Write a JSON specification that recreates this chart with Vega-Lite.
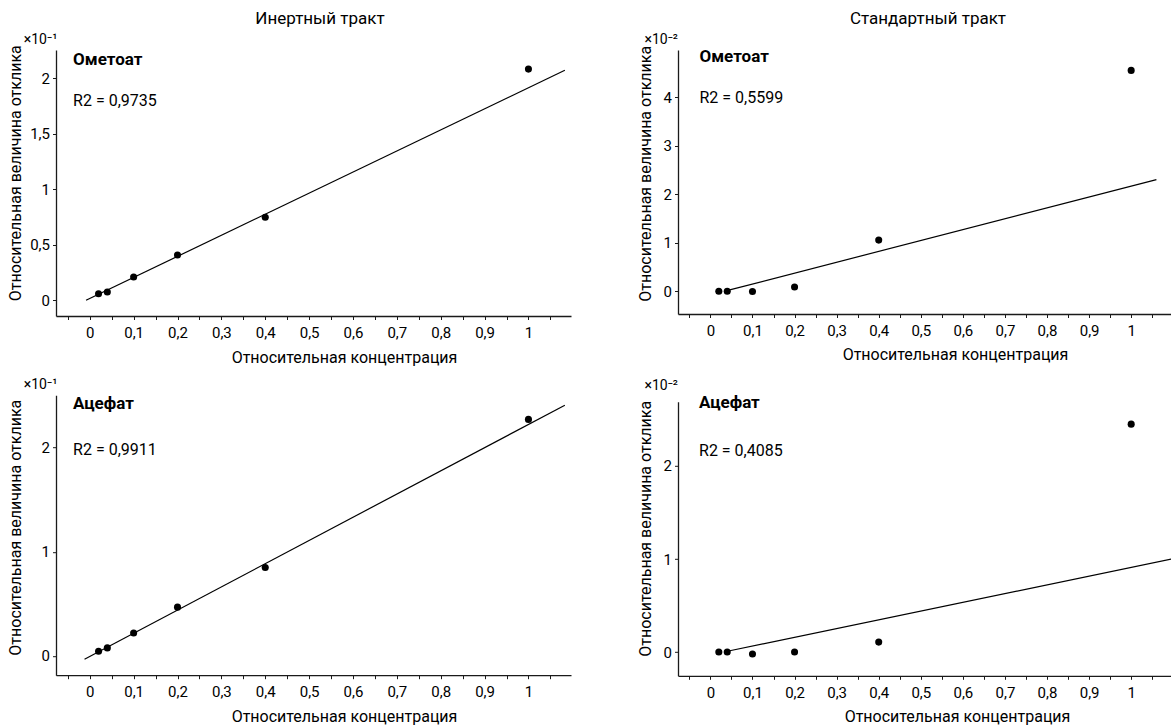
{
  "$schema": "https://vega.github.io/schema/vega-lite/v6.json",
  "background": "white",
  "padding": {"left": 7, "top": 9, "right": 0, "bottom": 0},
  "autosize": {"type": "pad"},
  "spacing": 65,
  "datasets": {
    "pts": [
      {"path": "inert", "compound": "Ометоат", "conc": 0.02, "resp": 0.059},
      {"path": "inert", "compound": "Ометоат", "conc": 0.04, "resp": 0.075},
      {"path": "inert", "compound": "Ометоат", "conc": 0.1, "resp": 0.21},
      {"path": "inert", "compound": "Ометоат", "conc": 0.2, "resp": 0.408},
      {"path": "inert", "compound": "Ометоат", "conc": 0.4, "resp": 0.748},
      {"path": "inert", "compound": "Ометоат", "conc": 1, "resp": 2.08},
      {"path": "standard", "compound": "Ометоат", "conc": 0.02, "resp": 0.0},
      {"path": "standard", "compound": "Ометоат", "conc": 0.04, "resp": 0.0},
      {"path": "standard", "compound": "Ометоат", "conc": 0.1, "resp": -0.005},
      {"path": "standard", "compound": "Ометоат", "conc": 0.2, "resp": 0.09},
      {"path": "standard", "compound": "Ометоат", "conc": 0.4, "resp": 1.055},
      {"path": "standard", "compound": "Ометоат", "conc": 1, "resp": 4.55},
      {"path": "inert", "compound": "Ацефат", "conc": 0.02, "resp": 0.045},
      {"path": "inert", "compound": "Ацефат", "conc": 0.04, "resp": 0.077},
      {"path": "inert", "compound": "Ацефат", "conc": 0.1, "resp": 0.22},
      {"path": "inert", "compound": "Ацефат", "conc": 0.2, "resp": 0.468},
      {"path": "inert", "compound": "Ацефат", "conc": 0.4, "resp": 0.848},
      {"path": "inert", "compound": "Ацефат", "conc": 1, "resp": 2.27},
      {"path": "standard", "compound": "Ацефат", "conc": 0.02, "resp": 0.0},
      {"path": "standard", "compound": "Ацефат", "conc": 0.04, "resp": 0.0},
      {"path": "standard", "compound": "Ацефат", "conc": 0.1, "resp": -0.021},
      {"path": "standard", "compound": "Ацефат", "conc": 0.2, "resp": 0.0},
      {"path": "standard", "compound": "Ацефат", "conc": 0.4, "resp": 0.107},
      {"path": "standard", "compound": "Ацефат", "conc": 1, "resp": 2.45}
    ],
    "fits": [
      {"path": "inert", "compound": "Ометоат", "conc": -0.0085, "resp": 0.0},
      {"path": "inert", "compound": "Ометоат", "conc": 1.083, "resp": 2.07},
      {"path": "standard", "compound": "Ометоат", "conc": 0.046, "resp": 0.03},
      {"path": "standard", "compound": "Ометоат", "conc": 1.06, "resp": 2.3},
      {"path": "inert", "compound": "Ацефат", "conc": -0.012, "resp": -0.032},
      {"path": "inert", "compound": "Ацефат", "conc": 1.083, "resp": 2.406},
      {"path": "standard", "compound": "Ацефат", "conc": 0.046, "resp": 0.014},
      {"path": "standard", "compound": "Ацефат", "conc": 1.095, "resp": 1.0}
    ],
    "labels": [
      {"path": "inert", "compound": "Ометоат", "r2": "R2 = 0,9735"},
      {"path": "standard", "compound": "Ометоат", "r2": "R2 = 0,5599"},
      {"path": "inert", "compound": "Ацефат", "r2": "R2 = 0,9911"},
      {"path": "standard", "compound": "Ацефат", "r2": "R2 = 0,4085"}
    ]
  },
  "hconcat": [
    {
      "title": {"text": "Инертный тракт", "fontSize": 17, "offset": 5.3, "anchor": "middle", "frame": "group", "dx": 264},
      "spacing": 12.2,
      "vconcat": [
        {
          "width": 515, "height": 266,
          "title": {"text": "×10⁻¹", "anchor": "start", "frame": "group", "align": "right", "dx": 1.3, "offset": -2.7, "fontSize": 14},
          "resolve": {"axis": {"x": "independent"}},
          "layer": [
            {
              "data": {"name": "fits"},
              "transform": [{"filter": "datum.path == 'inert' && datum.compound == 'Ометоат'"}],
              "mark": {"type": "line", "color": "black", "strokeWidth": 1.2},
              "encoding": {
                "x": {"field": "conc", "type": "quantitative", "scale": {"domain": [-0.077, 1.097], "nice": false, "zero": false},
                  "axis": {"orient": "bottom", "values": [0, 0.1, 0.2, 0.3, 0.4, 0.5, 0.6, 0.7, 0.8, 0.9, 1],
                    "labelExpr": "replace(format(datum.value,'~g'),'.',',')",
                    "labelOverlap": false, "labelFlush": false, "labelPadding": 6,
                    "title": "Относительная концентрация", "titleX": 288, "titleY": 41.5, "titleBaseline": "middle", "titleAlign": "center"}},
                "y": {"field": "resp", "type": "quantitative", "scale": {"domain": [-0.141, 2.252], "nice": false, "zero": false},
                  "axis": {"values": [0, 0.5, 1, 1.5, 2], "labelExpr": "replace(format(datum.value,'~g'),'.',',')", "labelOverlap": false,
                    "title": "Относительная величина отклика", "titleX": -40.7, "titleY": 122.7, "titleAngle": 270, "titleBaseline": "middle", "titleAlign": "center"}}
              }
            },
            {
              "data": {"name": "pts"},
              "transform": [{"filter": "datum.path == 'inert' && datum.compound == 'Ометоат'"}],
              "mark": {"type": "circle", "color": "black", "size": 50, "opacity": 1},
              "encoding": {
                "x": {"field": "conc", "type": "quantitative",
                  "axis": {"orient": "bottom", "values": [-0.05, 0.05, 0.15, 0.25, 0.35, 0.45, 0.55, 0.65, 0.75, 0.85, 0.95, 1.05], "labels": false, "domain": false, "title": null}},
                "y": {"field": "resp", "type": "quantitative"}
              }
            },
            {
              "data": {"name": "labels"},
              "transform": [{"filter": "datum.path == 'inert' && datum.compound == 'Ометоат'"}],
              "mark": {"type": "text", "align": "left", "baseline": "middle", "fontSize": 17, "fontWeight": "bold", "color": "black"},
              "encoding": {"x": {"datum": -0.038, "axis": null}, "y": {"datum": 2.165}, "text": {"field": "compound"}}
            },
            {
              "data": {"name": "labels"},
              "transform": [{"filter": "datum.path == 'inert' && datum.compound == 'Ометоат'"}],
              "mark": {"type": "text", "align": "left", "baseline": "middle", "fontSize": 16, "color": "black"},
              "encoding": {"x": {"datum": -0.038, "axis": null}, "y": {"datum": 1.795}, "text": {"field": "r2"}}
            }
          ]
        },
        {
          "width": 515, "height": 280,
          "title": {"text": "×10⁻¹", "anchor": "start", "frame": "group", "align": "right", "dx": 1.3, "offset": 2.3, "fontSize": 14},
          "resolve": {"axis": {"x": "independent"}},
          "layer": [
            {
              "data": {"name": "fits"},
              "transform": [{"filter": "datum.path == 'inert' && datum.compound == 'Ацефат'"}],
              "mark": {"type": "line", "color": "black", "strokeWidth": 1.2},
              "encoding": {
                "x": {"field": "conc", "type": "quantitative", "scale": {"domain": [-0.077, 1.097], "nice": false, "zero": false},
                  "axis": {"orient": "bottom", "values": [0, 0.1, 0.2, 0.3, 0.4, 0.5, 0.6, 0.7, 0.8, 0.9, 1],
                    "labelExpr": "replace(format(datum.value,'~g'),'.',',')",
                    "labelOverlap": false, "labelFlush": false, "labelPadding": 6,
                    "title": "Относительная концентрация", "titleX": 288, "titleY": 41.5, "titleBaseline": "middle", "titleAlign": "center"}},
                "y": {"field": "resp", "type": "quantitative", "scale": {"domain": [-0.185, 2.502], "nice": false, "zero": false},
                  "axis": {"values": [0, 1, 2], "labelExpr": "replace(format(datum.value,'~g'),'.',',')", "labelOverlap": false,
                    "title": "Относительная величина отклика", "titleX": -40.4, "titleY": 132, "titleAngle": 270, "titleBaseline": "middle", "titleAlign": "center"}}
              }
            },
            {
              "data": {"name": "pts"},
              "transform": [{"filter": "datum.path == 'inert' && datum.compound == 'Ацефат'"}],
              "mark": {"type": "circle", "color": "black", "size": 50, "opacity": 1},
              "encoding": {
                "x": {"field": "conc", "type": "quantitative",
                  "axis": {"orient": "bottom", "values": [-0.05, 0.05, 0.15, 0.25, 0.35, 0.45, 0.55, 0.65, 0.75, 0.85, 0.95, 1.05], "labels": false, "domain": false, "title": null}},
                "y": {"field": "resp", "type": "quantitative"}
              }
            },
            {
              "data": {"name": "labels"},
              "transform": [{"filter": "datum.path == 'inert' && datum.compound == 'Ацефат'"}],
              "mark": {"type": "text", "align": "left", "baseline": "middle", "fontSize": 17, "fontWeight": "bold", "color": "black"},
              "encoding": {"x": {"datum": -0.038, "axis": null}, "y": {"datum": 2.42}, "text": {"field": "compound"}}
            },
            {
              "data": {"name": "labels"},
              "transform": [{"filter": "datum.path == 'inert' && datum.compound == 'Ацефат'"}],
              "mark": {"type": "text", "align": "left", "baseline": "middle", "fontSize": 16, "color": "black"},
              "encoding": {"x": {"datum": -0.038, "axis": null}, "y": {"datum": 1.974}, "text": {"field": "r2"}}
            }
          ]
        }
      ]
    },
    {
      "title": {"text": "Стандартный тракт", "fontSize": 17, "offset": 5.3, "anchor": "middle", "frame": "group", "dx": 250},
      "spacing": 14.8,
      "vconcat": [
        {
          "width": 494, "height": 264,
          "title": {"text": "×10⁻²", "anchor": "start", "frame": "group", "align": "right", "dx": 0, "offset": -1.9, "fontSize": 14},
          "resolve": {"axis": {"x": "independent"}},
          "layer": [
            {
              "data": {"name": "fits"},
              "transform": [{"filter": "datum.path == 'standard' && datum.compound == 'Ометоат'"}],
              "mark": {"type": "line", "color": "black", "strokeWidth": 1.2},
              "encoding": {
                "x": {"field": "conc", "type": "quantitative", "scale": {"domain": [-0.077, 1.097], "nice": false, "zero": false},
                  "axis": {"orient": "bottom", "values": [0, 0.1, 0.2, 0.3, 0.4, 0.5, 0.6, 0.7, 0.8, 0.9, 1],
                    "labelExpr": "replace(format(datum.value,'~g'),'.',',')",
                    "labelOverlap": false, "labelFlush": false, "labelPadding": 6,
                    "title": "Относительная концентрация", "titleX": 277, "titleY": 40.7, "titleBaseline": "middle", "titleAlign": "center"}},
                "y": {"field": "resp", "type": "quantitative", "scale": {"domain": [-0.467, 4.97], "nice": false, "zero": false},
                  "axis": {"values": [0, 1, 2, 3, 4], "labelExpr": "replace(format(datum.value,'~g'),'.',',')", "labelOverlap": false,
                    "title": "Относительная величина отклика", "titleX": -33, "titleY": 123.3, "titleAngle": 270, "titleBaseline": "middle", "titleAlign": "center"}}
              }
            },
            {
              "data": {"name": "pts"},
              "transform": [{"filter": "datum.path == 'standard' && datum.compound == 'Ометоат'"}],
              "mark": {"type": "circle", "color": "black", "size": 50, "opacity": 1},
              "encoding": {
                "x": {"field": "conc", "type": "quantitative",
                  "axis": {"orient": "bottom", "values": [-0.05, 0.05, 0.15, 0.25, 0.35, 0.45, 0.55, 0.65, 0.75, 0.85, 0.95, 1.05], "labels": false, "domain": false, "title": null}},
                "y": {"field": "resp", "type": "quantitative"}
              }
            },
            {
              "data": {"name": "labels"},
              "transform": [{"filter": "datum.path == 'standard' && datum.compound == 'Ометоат'"}],
              "mark": {"type": "text", "align": "left", "baseline": "middle", "fontSize": 17, "fontWeight": "bold", "color": "black"},
              "encoding": {"x": {"datum": -0.026, "axis": null}, "y": {"datum": 4.82}, "text": {"field": "compound"}}
            },
            {
              "data": {"name": "labels"},
              "transform": [{"filter": "datum.path == 'standard' && datum.compound == 'Ометоат'"}],
              "mark": {"type": "text", "align": "left", "baseline": "middle", "fontSize": 16, "color": "black"},
              "encoding": {"x": {"datum": -0.026, "axis": null}, "y": {"datum": 3.98}, "text": {"field": "r2"}}
            }
          ]
        },
        {
          "width": 494, "height": 274,
          "title": {"text": "×10⁻²", "anchor": "start", "frame": "group", "align": "right", "dx": 0, "offset": 1.5, "fontSize": 14},
          "resolve": {"axis": {"x": "independent"}},
          "layer": [
            {
              "data": {"name": "fits"},
              "transform": [{"filter": "datum.path == 'standard' && datum.compound == 'Ацефат'"}],
              "mark": {"type": "line", "color": "black", "strokeWidth": 1.2},
              "encoding": {
                "x": {"field": "conc", "type": "quantitative", "scale": {"domain": [-0.077, 1.097], "nice": false, "zero": false},
                  "axis": {"orient": "bottom", "values": [0, 0.1, 0.2, 0.3, 0.4, 0.5, 0.6, 0.7, 0.8, 0.9, 1],
                    "labelExpr": "replace(format(datum.value,'~g'),'.',',')",
                    "labelOverlap": false, "labelFlush": false, "labelPadding": 6,
                    "title": "Относительная концентрация", "titleX": 279, "titleY": 40.7, "titleBaseline": "middle", "titleAlign": "center"}},
                "y": {"field": "resp", "type": "quantitative", "scale": {"domain": [-0.255, 2.69], "nice": false, "zero": false},
                  "axis": {"values": [0, 1, 2], "labelExpr": "replace(format(datum.value,'~g'),'.',',')", "labelOverlap": false,
                    "title": "Относительная величина отклика", "titleX": -33, "titleY": 126.5, "titleAngle": 270, "titleBaseline": "middle", "titleAlign": "center"}}
              }
            },
            {
              "data": {"name": "pts"},
              "transform": [{"filter": "datum.path == 'standard' && datum.compound == 'Ацефат'"}],
              "mark": {"type": "circle", "color": "black", "size": 50, "opacity": 1},
              "encoding": {
                "x": {"field": "conc", "type": "quantitative",
                  "axis": {"orient": "bottom", "values": [-0.05, 0.05, 0.15, 0.25, 0.35, 0.45, 0.55, 0.65, 0.75, 0.85, 0.95, 1.05], "labels": false, "domain": false, "title": null}},
                "y": {"field": "resp", "type": "quantitative"}
              }
            },
            {
              "data": {"name": "labels"},
              "transform": [{"filter": "datum.path == 'standard' && datum.compound == 'Ацефат'"}],
              "mark": {"type": "text", "align": "left", "baseline": "middle", "fontSize": 17, "fontWeight": "bold", "color": "black"},
              "encoding": {"x": {"datum": -0.027, "axis": null}, "y": {"datum": 2.675}, "text": {"field": "compound"}}
            },
            {
              "data": {"name": "labels"},
              "transform": [{"filter": "datum.path == 'standard' && datum.compound == 'Ацефат'"}],
              "mark": {"type": "text", "align": "left", "baseline": "middle", "fontSize": 16, "color": "black"},
              "encoding": {"x": {"datum": -0.027, "axis": null}, "y": {"datum": 2.165}, "text": {"field": "r2"}}
            }
          ]
        }
      ]
    }
  ],
  "config": {
    "font": "Roboto",
    "view": {"stroke": null},
    "axis": {
      "grid": false,
      "domainColor": "#1a1a1a", "domainWidth": 1.3,
      "tickColor": "#1a1a1a", "tickWidth": 1, "tickSize": 3.5,
      "labelColor": "black", "labelFont": "Roboto", "labelFontSize": 15, "labelPadding": 3,
      "titleColor": "black", "titleFont": "Roboto", "titleFontSize": 16, "titleFontWeight": "normal"
    },
    "title": {"font": "Roboto", "fontWeight": "normal", "color": "black"},
    "text": {"font": "Roboto"}
  }
}
